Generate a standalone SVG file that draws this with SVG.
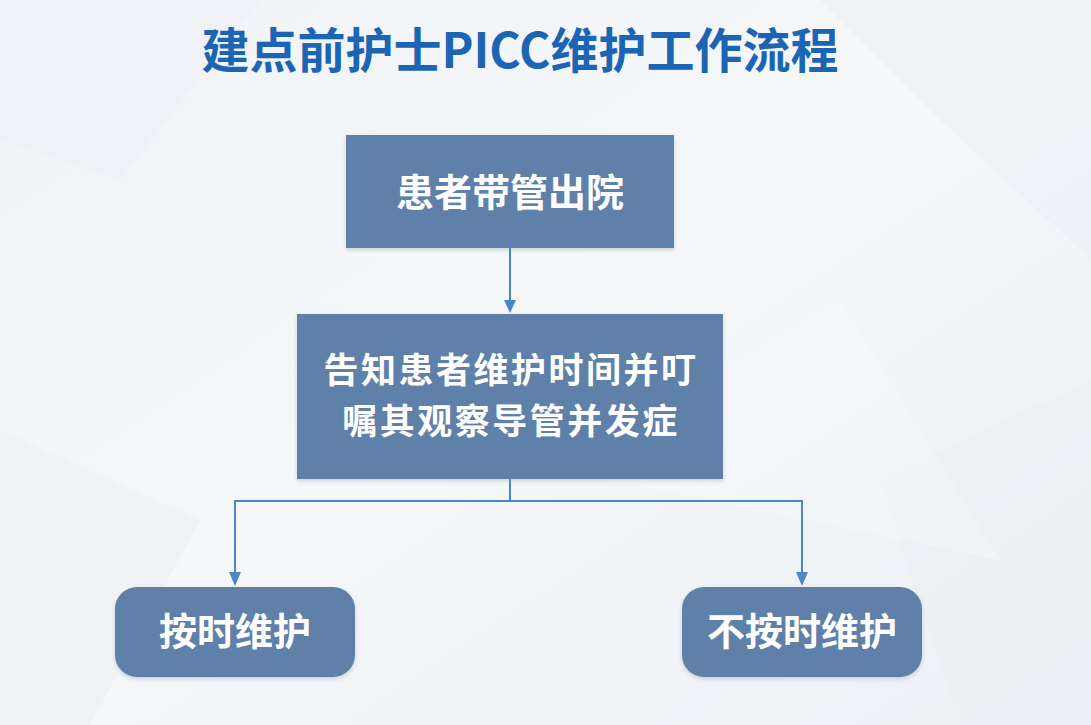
<svg xmlns="http://www.w3.org/2000/svg" width="1091" height="725" viewBox="0 0 1091 725">
<defs>
<linearGradient id="bg" x1="0" y1="0" x2="1" y2="1">
<stop offset="0" stop-color="#f1f4f7"/>
<stop offset="0.5" stop-color="#f5f7f9"/>
<stop offset="1" stop-color="#ecf0f4"/>
</linearGradient>
<filter id="sh" x="-10%" y="-10%" width="120%" height="130%">
<feDropShadow dx="0" dy="2" stdDeviation="2" flood-color="#7a8fa8" flood-opacity="0.35"/>
</filter>
</defs>
<style>
.box{fill:#5e80a9;filter:url(#sh);}
.lbl{font-family:"Noto Sans CJK SC","Noto Sans",sans-serif;font-weight:bold;fill:#ffffff;text-anchor:middle;}
.conn{fill:none;stroke:#4a87c6;stroke-width:2;}
.head{fill:#4a87c6;}
</style>
<rect width="1091" height="725" fill="url(#bg)"/>
<polygon points="0,0 260,0 120,180 0,140" fill="#e9eef3" opacity="0.35"/>
<polygon points="820,0 1091,0 1091,260 940,120" fill="#e6ebf1" opacity="0.35"/>
<polygon points="0,430 200,520 90,725 0,725" fill="#e7ecf2" opacity="0.35"/>
<polygon points="880,480 1091,380 1091,725 960,725" fill="#e8edf2" opacity="0.35"/>
<polygon points="560,470 1000,560 840,300" fill="#f8fafc" opacity="0.4"/>
<text x="520" y="68" font-family="Noto Sans CJK SC,Noto Sans,sans-serif" font-weight="bold" font-size="48" fill="#1c65b5" text-anchor="middle">建点前护士PICC维护工作流程</text>
<g id="connectors">
<path class="conn" d="M510,248 L510,302"/>
<polygon class="head" points="504,300 516,300 510,313"/>
<path class="conn" d="M510,479 L510,501 L235,501 L235,574"/>
<polygon class="head" points="229,572 241,572 235,586"/>
<path class="conn" d="M510,501 L802,501 L802,574"/>
<polygon class="head" points="796,572 808,572 802,586"/>
</g>
<g id="node1">
<rect class="box" x="346" y="135" width="328" height="113"/>
<text class="lbl" x="510" y="206" font-size="38">患者带管出院</text>
</g>
<g id="node2">
<rect class="box" x="297" y="314" width="426" height="165"/>
<text class="lbl" x="511" y="383" font-size="35" letter-spacing="2.5">告知患者维护时间并叮</text>
<text class="lbl" x="511" y="434" font-size="35" letter-spacing="2.5">嘱其观察导管并发症</text>
</g>
<g id="node3">
<rect class="box" x="115" y="587" width="240" height="90" rx="22"/>
<text class="lbl" x="235" y="645" font-size="38">按时维护</text>
</g>
<g id="node4">
<rect class="box" x="682" y="587" width="240" height="90" rx="22"/>
<text class="lbl" x="802" y="645" font-size="38">不按时维护</text>
</g>
</svg>
